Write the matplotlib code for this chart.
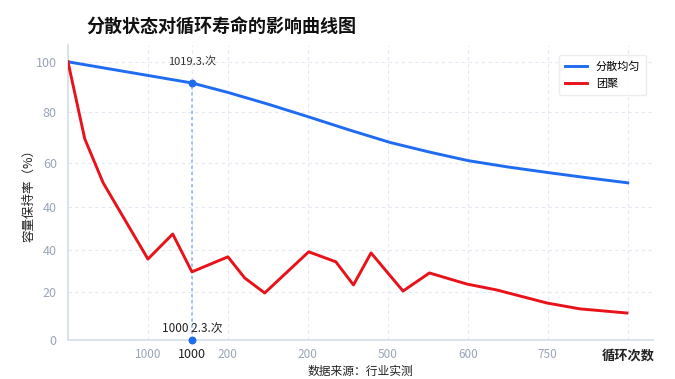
import matplotlib.pyplot as plt

plt.rcParams['font.family'] = ['Noto Sans CJK SC', 'DejaVu Sans']

# ===============================
# 数据
# ===============================
blue_x = [0, 100, 155, 200, 250, 301, 353, 403, 453, 500, 550, 600, 650, 700]
blue_y = [100, 95.1, 92.4, 89.0, 84.8, 80.2, 75.4, 71.0, 67.5, 64.5, 62.2, 60.2, 58.3, 56.5]

red_x = [0, 21, 44, 100, 131, 155, 200, 221, 246, 301, 335, 357, 379, 419, 452, 499, 536, 599, 640, 699]
red_y = [100, 72.3, 56.5, 29.1, 38.1, 24.5, 29.9, 22.3, 16.9, 31.7, 28.1, 19.8, 31.3, 17.6, 24.1, 20.1, 18.0, 13.3, 11.2, 9.7]

ytick_pos = [0, 17.3, 32.4, 47.8, 63.7, 82.0, 100]
ytick_labels = ["0", "20", "40", "40", "60", "80", "100"]

xtick_pos = [100, 155, 200, 300, 400, 500, 600, 700]
xtick_labels = ["1000", "1000", "200", "200", "500", "600", "750", "循环次数"]

mark_x = 155
mark_y = 92.4

# ===============================
# 画图
# ===============================
fig = plt.figure(figsize=(6.75, 3.79), dpi=100)
ax = fig.add_axes([0.1007, 0.1029, 0.8660, 0.7780])

blue = "#1f6cf2"
red = "#e8121b"

ax.plot(blue_x, blue_y, color=blue, lw=2.1, label="分散均匀", zorder=3)
ax.plot(red_x, red_y, color=red, lw=2.1, label="团聚", zorder=3)

# 标注线
ax.plot([mark_x, mark_x], [0, mark_y], color="#8ab0f0", lw=1.1, ls=(0, (2, 2)), zorder=2)
ax.scatter([mark_x], [mark_y], color=blue, s=22, zorder=4)
ax.scatter([mark_x], [0], color=blue, s=22, zorder=4, clip_on=False)
ax.text(mark_x, mark_y + 5.5, "1019.3.次", ha="center", va="bottom", fontsize=8, color="#333333")
ax.text(mark_x, 1.8, "1000 2.3.次", ha="center", va="bottom", fontsize=8.5, color="#222222")

ax.set_xlim(0, 731)
ax.set_ylim(0, 106)

ax.set_yticks(ytick_pos)
ax.set_yticklabels(ytick_labels)
ax.set_xticks(xtick_pos)
ax.set_xticklabels(xtick_labels)
ax.tick_params(length=0, colors="#9aa6b8", labelsize=8.5, pad=6)
ax.tick_params(axis="y", labelsize=9, pad=8)
tl = ax.get_xticklabels()
tl[1].set_color("#222222")
tl[1].set_fontsize(9)
tl[-1].set_color("#222222")
tl[-1].set_fontsize(9.5)
tl[-1].set_fontweight("bold")

ax.grid(True, color="#e3e9f2", ls=(0, (3, 3)), lw=0.8)
ax.set_axisbelow(True)
for s in ["top", "right"]:
    ax.spines[s].set_visible(False)
for s in ["left", "bottom"]:
    ax.spines[s].set_color("#d3dde9")
    ax.spines[s].set_linewidth(1.2)

ax.set_ylabel("容量保持率（%）", fontsize=9, color="#222222")
ax.yaxis.set_label_coords(-0.055, 0.5)
ax.set_xlabel("数据来源：行业实测", fontsize=8.5, color="#222222", labelpad=2)
fig.text(0.328, 0.929, "分散状态对循环寿命的影响曲线图", fontsize=13, fontweight="bold",
         ha="center", va="center", color="#111111")

ax.legend(loc="upper right", bbox_to_anchor=(0.998, 0.985), fontsize=8, frameon=True,
          edgecolor="#e6e9ee", handlelength=2.0, borderpad=0.5, labelspacing=0.7,
          handletextpad=0.8)

fig.savefig("out.png", dpi=100, facecolor="white")
